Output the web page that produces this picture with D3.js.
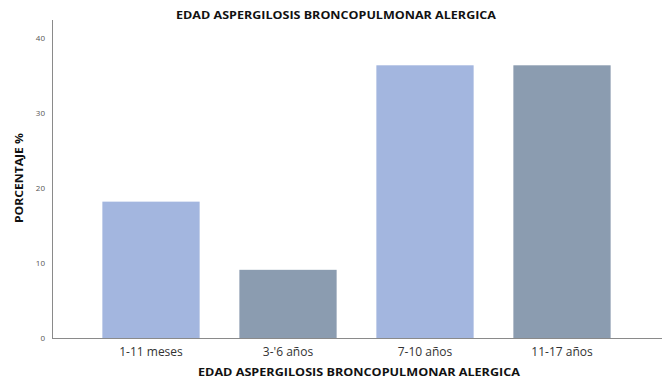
<!DOCTYPE html>
<html>
<head>
<meta charset="utf-8">
<script src="https://cdn.jsdelivr.net/npm/d3@7"></script>
<style>
  html, body { margin: 0; padding: 0; background: #fff; }
  svg { display: block; }
</style>
</head>
<body>
<svg id="chart" width="666" height="379"></svg>
<script>
// Age groups and their percentage of cases
const categories = ["1-11 meses", "3-'6 años", "7-10 años", "11-17 años"];
const values = [18.18, 9.09, 36.36, 36.36];
const barColors = ["#a3b6df", "#8b9cb0", "#a3b6df", "#8b9cb0"];
const yTicks = [0, 10, 20, 30, 40];
const titleText = "EDAD  ASPERGILOSIS BRONCOPULMONAR ALERGICA";
const yTitle = "PORCENTAJE %";

const svg = d3.select("#chart");
const font = "'Open Sans', 'Liberation Sans', sans-serif";

const x = d3.scaleBand()
  .domain(categories)
  .range([82.5, 630.5])
  .paddingInner(0.29)
  .paddingOuter(0.145);

const y = d3.scaleLinear().domain([0, 40]).range([338, 38]);

// Bars
svg.append("g").selectAll("rect")
  .data(values)
  .join("rect")
  .attr("x", (d, i) => x(categories[i]))
  .attr("width", x.bandwidth())
  .attr("y", d => y(d))
  .attr("height", d => y(0) - y(d))
  .attr("fill", (d, i) => barColors[i]);

// Axis lines
svg.append("line")
  .attr("x1", 52.5).attr("x2", 52.5)
  .attr("y1", 20).attr("y2", y(0))
  .attr("stroke", "#8a8a8a").attr("stroke-width", 1);
svg.append("line")
  .attr("x1", 52).attr("x2", 662)
  .attr("y1", y(0) + 0.5).attr("y2", y(0) + 0.5)
  .attr("stroke", "#8a8a8a").attr("stroke-width", 1);

// Y tick labels
const yAxis = d3.axisLeft(y).tickValues(yTicks).tickSize(0).tickPadding(7);
const gy = svg.append("g").attr("transform", "translate(52,0)").call(yAxis);
gy.select(".domain").remove();
gy.selectAll("text")
  .attr("font-family", font)
  .attr("font-size", 8)
  .attr("fill", "#555");

// X tick labels
const xAxis = d3.axisBottom(x).tickSize(0).tickPadding(9);
const gx = svg.append("g").attr("transform", `translate(0,${y(0)})`).call(xAxis);
gx.select(".domain").remove();
gx.selectAll("text")
  .attr("font-family", font)
  .attr("font-size", 12)
  .attr("fill", "#333");

// Titles
svg.append("text")
  .attr("x", 336).attr("y", 19)
  .attr("text-anchor", "middle")
  .attr("font-family", font)
  .attr("font-weight", "bold")
  .attr("font-size", 11)
  .attr("textLength", 320)
  .attr("lengthAdjust", "spacingAndGlyphs")
  .attr("fill", "#111")
  .text(titleText);

svg.append("text")
  .attr("x", 359).attr("y", 376)
  .attr("text-anchor", "middle")
  .attr("font-family", font)
  .attr("font-weight", "bold")
  .attr("font-size", 11)
  .attr("textLength", 322)
  .attr("lengthAdjust", "spacingAndGlyphs")
  .attr("fill", "#111")
  .text(titleText);

svg.append("text")
  .attr("transform", "translate(23,178) rotate(-90)")
  .attr("text-anchor", "middle")
  .attr("font-family", font)
  .attr("font-weight", "bold")
  .attr("font-size", 10)
  .attr("textLength", 90)
  .attr("lengthAdjust", "spacingAndGlyphs")
  .attr("fill", "#111")
  .text(yTitle);
</script>
</body>
</html>
